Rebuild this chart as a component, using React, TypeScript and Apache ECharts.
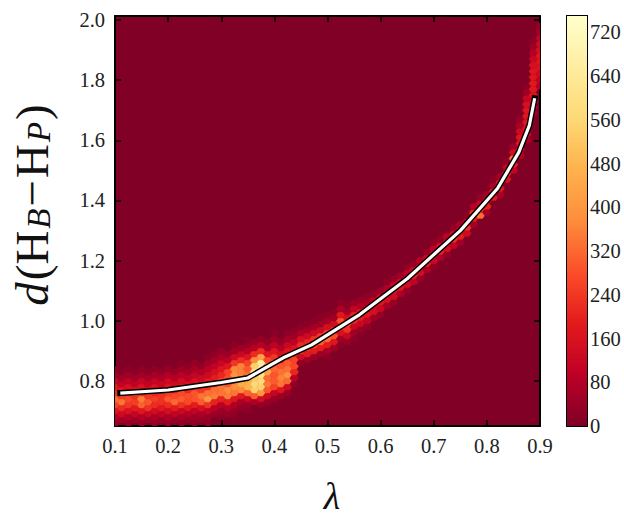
import React, { useEffect, useRef } from "react";
import * as echarts from "echarts";

// Hex-bin columns: [first row index, counts going upward]. Column i sits at x = xStart + i * xStep.
const xStart = 0.1;
const xStep = 0.0125;
const yStart = 0.66;
const yStep = 0.02;
const binColumns: [number, number[]][] = [
  [0, [50, 90, 170, 260, 320, 230, 170, 110, 55, 25]],
  [0, [60, 130, 220, 340, 250, 170, 100, 50, 20]],
  [0, [35, 80, 160, 240, 270, 210, 150, 100, 50, 20]],
  [0, [50, 110, 190, 250, 230, 160, 100, 50, 20]],
  [0, [35, 80, 170, 310, 350, 230, 160, 110, 55, 25]],
  [0, [50, 120, 230, 290, 240, 160, 105, 60, 25]],
  [0, [30, 70, 140, 220, 250, 210, 160, 115, 60, 25]],
  [0, [40, 100, 180, 230, 230, 170, 115, 70, 30]],
  [0, [30, 70, 140, 220, 290, 250, 170, 130, 80, 35]],
  [0, [40, 100, 190, 320, 270, 190, 130, 85, 40]],
  [0, [25, 60, 120, 230, 300, 270, 190, 140, 90, 45, 20]],
  [0, [35, 85, 170, 270, 280, 210, 150, 100, 55, 25]],
  [0, [20, 50, 105, 190, 290, 290, 220, 160, 110, 65, 30]],
  [0, [30, 70, 150, 300, 340, 240, 170, 125, 80, 35]],
  [0, [20, 45, 100, 230, 400, 330, 230, 180, 130, 90, 50, 20]],
  [1, [40, 90, 200, 350, 330, 240, 190, 150, 105, 60, 25]],
  [1, [20, 40, 90, 200, 340, 340, 260, 210, 170, 120, 70, 35]],
  [1, [35, 80, 190, 350, 370, 290, 270, 260, 170, 90, 40]],
  [1, [20, 35, 70, 170, 340, 380, 340, 390, 370, 240, 130, 55, 25]],
  [2, [30, 65, 180, 370, 450, 370, 360, 360, 220, 120, 45]],
  [2, [20, 35, 120, 310, 470, 460, 330, 300, 260, 170, 90, 35, 15]],
  [3, [70, 300, 540, 560, 530, 620, 540, 380, 220, 90, 30]],
  [3, [30, 140, 400, 540, 560, 590, 700, 640, 420, 220, 90, 30]],
  [3, [40, 130, 290, 340, 320, 430, 400, 270, 170, 75, 30]],
  [4, [40, 110, 260, 300, 290, 320, 320, 240, 170, 100, 45, 15]],
  [4, [45, 170, 340, 360, 330, 290, 210, 150, 85, 35]],
  [5, [40, 130, 320, 390, 330, 300, 230, 170, 120, 60, 25]],
  [6, [25, 90, 210, 270, 260, 210, 160, 100, 45, 20]],
  [10, [25, 130, 240, 220, 150, 70, 25]],
  [10, [45, 180, 250, 210, 130, 55, 20]],
  [11, [45, 190, 270, 230, 130, 55, 20]],
  [11, [45, 190, 300, 240, 130, 50, 20]],
  [11, [20, 60, 190, 320, 260, 150, 60, 20]],
  [12, [50, 170, 280, 230, 140, 50, 20]],
  [13, [20, 50, 160, 240, 280, 180, 70, 25]],
  [13, [35, 120, 230, 270, 150, 55, 20]],
  [14, [20, 45, 120, 210, 200, 110, 40]],
  [15, [40, 120, 190, 170, 80, 30]],
  [16, [30, 105, 180, 160, 70, 25]],
  [17, [50, 150, 170, 100, 35]],
  [18, [30, 120, 170, 130, 45]],
  [19, [60, 150, 150, 70, 20]],
  [20, [30, 130, 170, 120, 35]],
  [21, [70, 170, 140, 50]],
  [22, [35, 140, 180, 100, 25]],
  [23, [100, 190, 130, 35]],
  [24, [30, 140, 190, 90]],
  [25, [70, 190, 130, 35]],
  [26, [25, 120, 200, 100, 25]],
  [27, [70, 200, 140, 35]],
  [28, [30, 150, 210, 100]],
  [29, [100, 220, 130, 30]],
  [30, [50, 190, 220, 70]],
  [31, [130, 230, 110, 25]],
  [33, [60, 190, 210, 80]],
  [34, [330, 230, 120, 30]],
  [35, [50, 200, 190, 60]],
  [37, [190, 190, 70, 20]],
  [38, [70, 180, 180, 60]],
  [40, [160, 210, 110, 30]],
  [42, [110, 210, 330, 140, 50]],
  [44, [90, 150, 170, 170, 130, 70, 30]],
  [47, [70, 130, 160, 170, 170, 170, 150, 110, 50, 20]],
  [51, [60, 100, 140, 170, 180, 180, 170, 170, 150, 120, 80, 50, 25]],
  [56, [70, 100, 130, 160, 170, 170, 150, 130, 100, 60, 30]],
];

const curveX = [0.11, 0.2, 0.3, 0.35, 0.38, 0.42, 0.47, 0.56, 0.65, 0.75, 0.82, 0.86, 0.88, 0.89];
const curveY = [0.76, 0.77, 0.795, 0.81, 0.84, 0.88, 0.92, 1.02, 1.14, 1.3, 1.44, 1.56, 1.65, 1.74];

const yTicks = [0.8, 1.0, 1.2, 1.4, 1.6, 1.8, 2.0];
const colorStops = ["#800026", "#bd0026", "#e31a1c", "#fc4e2a", "#fd8d3c", "#feb24c", "#fed976", "#ffeda0", "#ffffcc"];
const colorMax = 750;
const colorScaleTop = 750;

const FONT = '"Liberation Serif", serif';
const TXT = "#222";

export default function App() {
  const ref = useRef<HTMLDivElement>(null);

  useEffect(() => {
    const chart = echarts.init(ref.current!, undefined, { renderer: "svg" });

    const cells: number[][] = [];
    binColumns.forEach(([first, vals], i) => {
      const x = xStart + i * xStep;
      const shift = i % 2 === 1 ? yStep / 2 : 0;
      vals.forEach((v, j) => cells.push([x, yStart + shift + (first + j) * yStep, v]));
    });
    const curve = curveX.map((x, i) => [x, curveY[i]]);

    const frameAxis = { axisLine: { show: true, onZero: false, lineStyle: { color: "#000", width: 2 } } };
    const tick = { show: true, inside: true, length: 6, lineStyle: { color: "#000", width: 1.5 } };
    const label = { color: TXT, fontFamily: FONT, fontSize: 20.5 };

    const xCommon = { type: "value", gridIndex: 0, min: 0.1, max: 0.9, interval: 0.1, splitLine: { show: false }, axisTick: tick, ...frameAxis };
    const yCommon = { type: "value", gridIndex: 0, min: 0.6504, max: 2.0133, splitLine: { show: false }, ...frameAxis };

    chart.setOption({
      animation: false,
      backgroundColor: "#fff",
      grid: [
        { left: 115, top: 16, width: 425, height: 410, show: true, backgroundColor: colorStops[0], borderWidth: 0 },
        { left: 567, top: 16, width: 20, height: 410, show: false },
      ],
      xAxis: [
        { ...xCommon, position: "bottom", axisLabel: { ...label, margin: 9, formatter: (v: number) => v.toFixed(1) } },
        { ...xCommon, position: "top", axisLabel: { show: false } },
        { type: "category", gridIndex: 1, data: ["c"], position: "bottom", axisTick: { show: false }, axisLabel: { show: false }, ...frameAxis },
        { type: "category", gridIndex: 1, data: ["c"], position: "top", axisTick: { show: false }, axisLabel: { show: false }, ...frameAxis },
      ],
      yAxis: [
        {
          ...yCommon,
          position: "left",
          axisTick: { ...tick, customValues: yTicks },
          axisLabel: { ...label, margin: 10, customValues: yTicks, formatter: (v: number) => v.toFixed(1) },
        },
        { ...yCommon, position: "right", axisTick: { ...tick, customValues: yTicks }, axisLabel: { show: false } },
        {
          type: "value",
          gridIndex: 1,
          min: 0,
          max: colorMax,
          interval: 80,
          position: "right",
          splitLine: { show: false },
          axisTick: { show: false },
          axisLabel: { ...label, margin: 3, formatter: (v: number) => String(v) },
          ...frameAxis,
        },
        {
          type: "value",
          gridIndex: 1,
          min: 0,
          max: colorMax,
          position: "left",
          splitLine: { show: false },
          axisTick: { show: false },
          axisLabel: { show: false },
          ...frameAxis,
        },
      ],
      visualMap: {
        show: false,
        type: "continuous",
        seriesIndex: 0,
        dimension: 2,
        min: 0,
        max: colorScaleTop,
        inRange: { color: colorStops },
      },
      series: [
        {
          type: "custom",
          xAxisIndex: 0,
          yAxisIndex: 0,
          clip: true,
          encode: { x: 0, y: 1 },
          data: cells,
          z: 2,
          renderItem: (params: any, api: any) => {
            const c = api.coord([api.value(0), api.value(1)]);
            const s = api.size([xStep, yStep]);
            const w = s[0] * 0.67;
            const h = s[1] * 0.5;
            const color = api.visual("color");
            return {
              type: "polygon",
              shape: {
                points: [
                  [c[0] - w, c[1]],
                  [c[0] - w / 2, c[1] - h],
                  [c[0] + w / 2, c[1] - h],
                  [c[0] + w, c[1]],
                  [c[0] + w / 2, c[1] + h],
                  [c[0] - w / 2, c[1] + h],
                ],
              },
              style: { fill: color, stroke: color, lineWidth: 0.4 },
            };
          },
        },
        {
          type: "line",
          xAxisIndex: 0,
          yAxisIndex: 0,
          data: curve,
          symbol: "none",
          silent: true,
          z: 5,
          lineStyle: { color: "#000", width: 6, cap: "square" },
        },
        {
          type: "line",
          xAxisIndex: 0,
          yAxisIndex: 0,
          data: curve,
          symbol: "none",
          silent: true,
          z: 6,
          lineStyle: { color: "#fff", width: 3.2 },
        },
        {
          type: "bar",
          xAxisIndex: 2,
          yAxisIndex: 2,
          data: [colorMax],
          barWidth: "100%",
          silent: true,
          itemStyle: {
            color: new echarts.graphic.LinearGradient(
              0,
              1,
              0,
              0,
              colorStops.map((color, i) => ({ offset: i / (colorStops.length - 1), color })),
            ),
          },
        },
      ],
      graphic: [
        {
          type: "text",
          x: 332,
          y: 496,
          silent: true,
          style: { text: "λ", fontFamily: FONT, fontStyle: "italic", fontSize: 38, fill: "#111", align: "center", verticalAlign: "middle" },
        },
        {
          type: "text",
          x: 32,
          y: 205,
          rotation: Math.PI / 2,
          silent: true,
          style: {
            text: "{i|d}{r|(H}{s|B}{m|−}{r|H}{s|P}{e|)}",
            align: "center",
            verticalAlign: "middle",
            fill: "#111",
            rich: {
              i: { fontFamily: FONT, fontStyle: "italic", fontSize: 47, fill: "#111", padding: [0, 2, 0, 0] },
              r: { fontFamily: FONT, fontSize: 47, fill: "#111" },
              m: { fontFamily: FONT, fontSize: 47, fill: "#111", padding: [0, 2, 0, 2] },
              e: { fontFamily: FONT, fontSize: 47, fill: "#111", padding: [0, 0, 0, 2] },
              s: { fontFamily: FONT, fontStyle: "italic", fontSize: 33, fill: "#111", verticalAlign: "bottom", padding: [14, 0, 0, 2] },
            },
          },
        },
      ],
    });

    return () => chart.dispose();
  }, []);

  return <div ref={ref} style={{ position: "absolute", left: 0, top: 0, width: 624, height: 516 }} />;
}
